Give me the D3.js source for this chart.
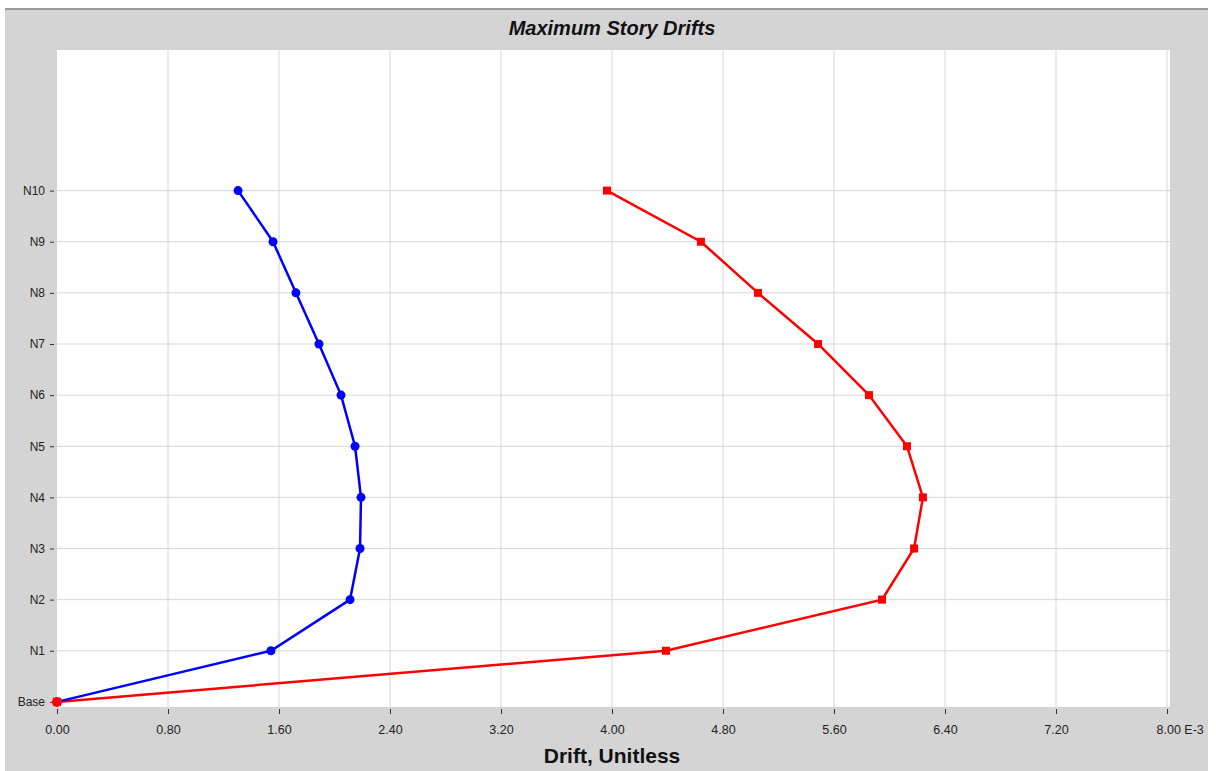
<!DOCTYPE html>
<html>
<head>
<meta charset="utf-8">
<script src="https://cdn.jsdelivr.net/npm/d3@7"></script>
<style>
  body { margin: 0; background: #fff; }
  svg { display: block; font-family: Arial, "Liberation Sans", sans-serif; }
</style>
</head>
<body>
<div id="chart"></div>
<script>
// story levels, bottom to top
const stories = ["Base", "N1", "N2", "N3", "N4", "N5", "N6", "N7", "N8", "N9", "N10"];
// drift values (E-3)
const driftBlue = [0, 1.542, 2.112, 2.184, 2.191, 2.148, 2.047, 1.888, 1.722, 1.557, 1.305];
const driftRed = [0, 4.389, 5.946, 6.177, 6.241, 6.126, 5.852, 5.485, 5.052, 4.641, 3.964];
const xTicks = [0, 0.8, 1.6, 2.4, 3.2, 4.0, 4.8, 5.6, 6.4, 7.2, 8.0];

const W = 1216, H = 771;
const svg = d3.select("#chart").append("svg").attr("width", W).attr("height", H);

// grey panel
svg.append("rect").attr("x", 5).attr("y", 8).attr("width", 1203).attr("height", H - 8)
  .attr("fill", "#d4d4d4");
svg.append("rect").attr("x", 5).attr("y", 8).attr("width", 1203).attr("height", 2)
  .attr("fill", "#9a9a9a");

const plot = { left: 57, right: 1170, top: 50, bottom: 707 };
const x = d3.scaleLinear().domain([0, 8]).range([57, 1167]);
const y = d3.scaleLinear().domain([-0.1, 12.75]).range([plot.bottom, plot.top]);

svg.append("rect")
  .attr("x", plot.left).attr("y", plot.top)
  .attr("width", plot.right - plot.left).attr("height", plot.bottom - plot.top)
  .attr("fill", "#fff");

// grid
svg.append("g").selectAll("line").data(xTicks.slice(1)).join("line")
  .attr("x1", d => x(d)).attr("x2", d => x(d))
  .attr("y1", plot.top).attr("y2", plot.bottom)
  .attr("stroke", "#d6d6d6").attr("stroke-width", 1);
svg.append("g").selectAll("line").data(stories.slice(1)).join("line")
  .attr("x1", plot.left).attr("x2", plot.right)
  .attr("y1", (d, i) => y(i + 1)).attr("y2", (d, i) => y(i + 1))
  .attr("stroke", "#d6d6d6").attr("stroke-width", 1);

// x axis
const xAxis = d3.axisBottom(x).tickValues(xTicks)
  .tickFormat((d, i) => i === xTicks.length - 1 ? d.toFixed(2) + " E-3" : d.toFixed(2))
  .tickSize(5).tickPadding(11);
const gx = svg.append("g").attr("transform", `translate(0,${plot.bottom + 2})`).call(xAxis);
gx.select(".domain").remove();
gx.selectAll(".tick line").attr("stroke", "#333");
gx.selectAll("text").attr("font-size", 12.5).attr("fill", "#222");
gx.selectAll(".tick").filter((d, i) => i === xTicks.length - 1)
  .select("text").attr("text-anchor", "start").attr("dx", -11);

// y axis
const yAxis = d3.axisLeft(y).tickValues(d3.range(stories.length))
  .tickFormat(i => stories[i]).tickSize(4).tickPadding(5);
const gy = svg.append("g").attr("transform", `translate(${plot.left - 3},0)`).call(yAxis);
gy.select(".domain").remove();
gy.selectAll(".tick line").attr("stroke", "#333");
gy.selectAll("text").attr("font-size", 12).attr("fill", "#222");

// title and axis label
svg.append("text").attr("x", 612).attr("y", 35).attr("text-anchor", "middle")
  .attr("font-size", 20).attr("font-weight", "bold").attr("font-style", "italic")
  .attr("fill", "#111").text("Maximum Story Drifts");
svg.append("text").attr("x", 612).attr("y", 763).attr("text-anchor", "middle")
  .attr("font-size", 21).attr("font-weight", "bold")
  .attr("fill", "#111").text("Drift, Unitless");

const line = d3.line().x(d => x(d[0])).y(d => y(d[1]));

// red series
const red = driftRed.map((v, i) => [v, i]);
svg.append("path").datum(red).attr("d", line)
  .attr("fill", "none").attr("stroke", "#ff0000").attr("stroke-width", 2.5);
svg.append("g").selectAll("rect").data(red).join("rect")
  .attr("x", d => x(d[0]) - 4).attr("y", d => y(d[1]) - 4)
  .attr("width", 8).attr("height", 8).attr("fill", "#ff0000");

// blue series
const blue = driftBlue.map((v, i) => [v, i]);
svg.append("path").datum(blue).attr("d", line)
  .attr("fill", "none").attr("stroke", "#0000ff").attr("stroke-width", 2.5);
svg.append("g").selectAll("circle").data(blue.slice(1)).join("circle")
  .attr("cx", d => x(d[0])).attr("cy", d => y(d[1])).attr("r", 4.5)
  .attr("fill", "#0000ff");
// base point shows red on top
svg.append("circle").attr("cx", x(0)).attr("cy", y(0)).attr("r", 5).attr("fill", "#ff0000");
</script>
</body>
</html>
